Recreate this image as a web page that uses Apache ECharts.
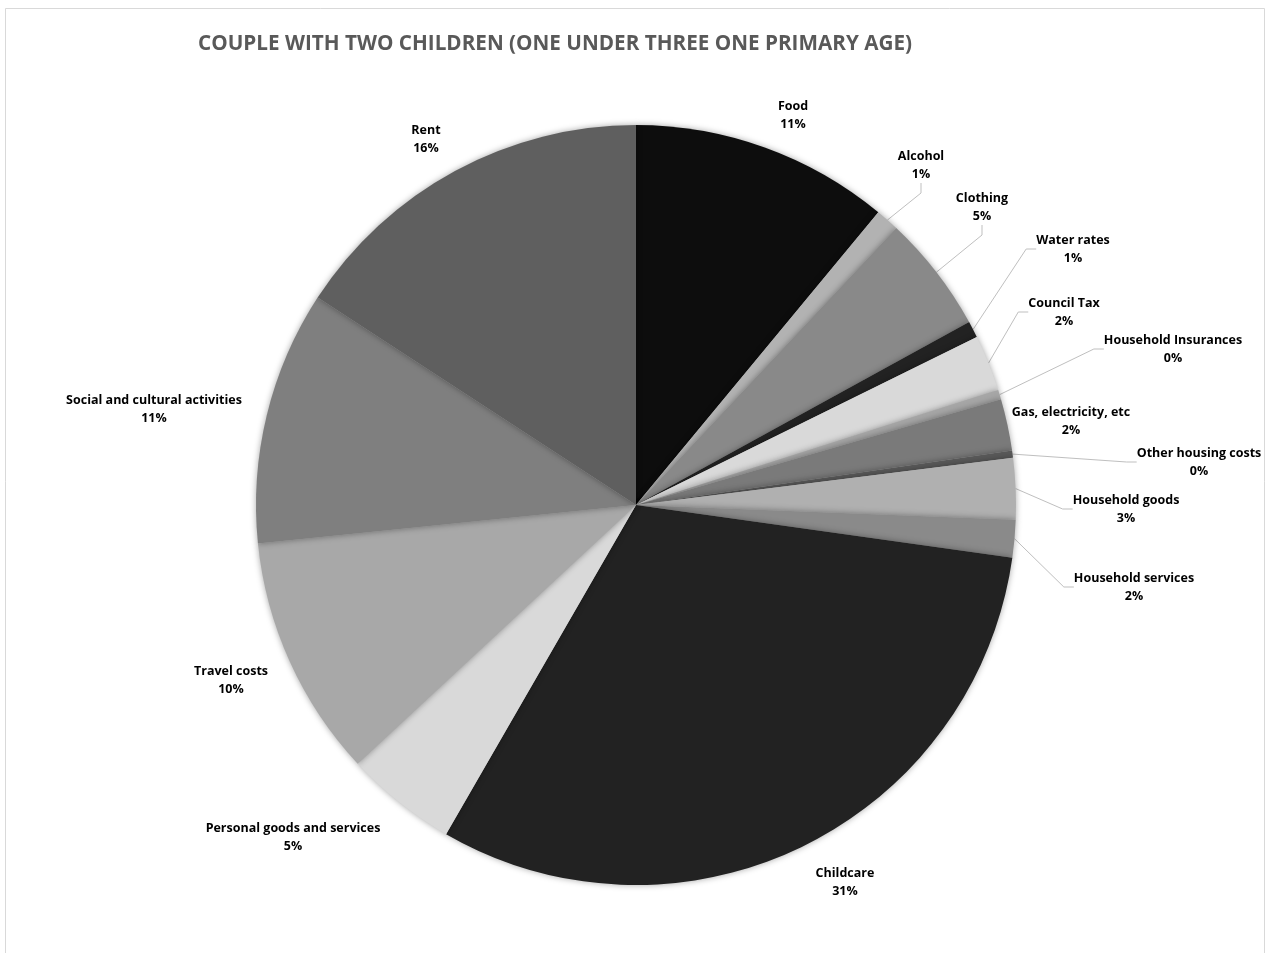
<!DOCTYPE html>
<html><head><meta charset="utf-8">
<script src="https://cdn.jsdelivr.net/npm/echarts@6/dist/echarts.min.js"></script>
<style>html,body{margin:0;padding:0;background:#fff}#c{width:1267px;height:953px}</style>
</head><body><div id="c"></div>
<script>
const categories = ['Food','Alcohol','Clothing','Water rates','Council Tax','Household Insurances','Gas, electricity, etc','Other housing costs','Household goods','Household services','Childcare','Personal goods and services','Travel costs','Social and cultural activities','Rent'];
const values = [11.0,1.0,5.0,0.7,2.4,0.4,2.2,0.3,2.6,1.6,31.1,4.75,10.3,10.8,15.8];
const colors = ['#0d0d0d','#b2b2b2','#898989','#222222','#d9d9d9','#a6a6a6','#7a7a7a','#595959','#b0b0b0','#8a8a8a','#222222','#d9d9d9','#a8a8a8','#7f7f7f','#5f5f5f'];
const showLine = [false,true,true,true,true,true,false,true,true,true,false,false,false,false,false];
const titleText = 'COUPLE WITH TWO CHILDREN (ONE UNDER THREE ONE PRIMARY AGE)';

// label block centres (layout, not data)
const labelCentres = [[793,115],[921,165],[982,207],[1073,249],[1064,312],[1173,349],[1071,421],[1199,462],[1126,509],[1134,587],[845,882],[293,837],[231,680],[154,409],[426,139]];

const chart = echarts.init(document.getElementById('c'));
chart.setOption({
  backgroundColor:'#fff',
  animation:false,
  graphic:[{type:'rect',shape:{x:5.5,y:8.5,width:1259,height:960},style:{fill:'none',stroke:'#d9d9d9',lineWidth:1}}],
  title:{text:titleText,left:193,top:29,textStyle:{fontFamily:'Open Sans',fontSize:20.7,fontWeight:'bold',color:'#595959'}},
  series:[{
    type:'pie',
    center:[636,505],
    radius:380,
    startAngle:90,
    clockwise:true,
    avoidLabelOverlap:false,
    data:categories.map((c,i)=>({name:c,value:values[i],itemStyle:{color:colors[i]},labelLine:{show:showLine[i]}})),
    itemStyle:{borderColor:'#fff',borderWidth:0,shadowBlur:6,shadowColor:'rgba(0,0,0,0.35)'},
    label:{show:true,position:'outside',formatter:p=>p.name+'\n'+Math.round(p.percent)+'%',fontFamily:'Open Sans',fontSize:12.5,fontWeight:'bold',color:'#000',lineHeight:18},
    labelLine:{show:true,length:15,length2:10,lineStyle:{color:'#bfbfbf',width:1}},
    labelLayout:function(p){
      const c = labelCentres[p.dataIndex];
      return {x:c[0],y:c[1],align:'center',verticalAlign:'middle'};
    }
  }]
});
</script></body></html>
